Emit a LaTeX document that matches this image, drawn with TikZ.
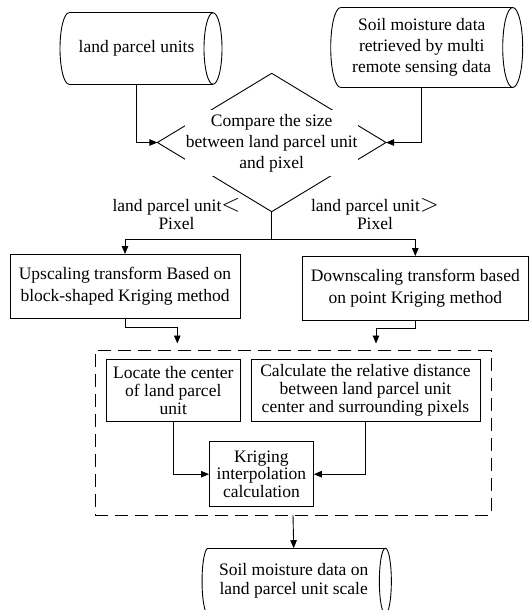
\documentclass[tikz,border=0pt]{standalone}
\usepackage{fontspec}
\setmainfont{Liberation Serif}
\usetikzlibrary{arrows.meta,shapes.geometric}
\newcommand{\bigrel}[1]{{\fontsize{23}{18}\selectfont$#1$}}

\begin{document}
\begin{tikzpicture}[x=1pt,y=-1pt,line width=0.9pt,
        font=\fontsize{17.5}{18}\selectfont,
        body/.style={rectangle,align=center,inner sep=0pt,outer sep=0pt},
        box/.style={body,draw},
        dashframe/.style={draw,dash pattern=on 13pt off 7pt,inner sep=0pt,outer sep=0pt},
        arr/.style={-{Triangle[length=8pt,width=6.5pt]}}]
        \useasboundingbox (0,0) rectangle (529,610);

        % data sources
        \node[body,minimum width=135pt,minimum height=71.5pt] (units) at (136.5,48.5) {land parcel units};
        \node[body,minimum width=162pt,minimum height=80pt,font=\fontsize{17.5}{21}\selectfont] (soil) at (421.7,47.5) {Soil moisture data\\retrieved by multi\\remote sensing data};
        \node[body,minimum width=171.3pt,minimum height=66pt,font=\fontsize{17.5}{19}\selectfont] (result) at (293.7,581.2) {Soil moisture data on\\land parcel unit scale};
        \foreach \c/\r/\h in {units/9/35.75, soil/10/40, result/6/33}
        {
            \draw (\c.north west) -- ([xshift=\r pt]\c.north east);
            \draw (\c.south west) -- ([xshift=\r pt]\c.south east);
            \draw (\c.north west) arc[start angle=90,end angle=270,x radius=\r pt,y radius=\h pt];
            \draw ([xshift=\r pt]\c.east) ellipse [x radius=\r pt,y radius=\h pt];
        }

        % decision
        \node[diamond,draw,minimum width=228.6pt,minimum height=138.4pt,inner sep=0pt,outer sep=0pt] (cmp) at (271.7,142.5) {};
        \node[body,fill=white,minimum width=173.3pt,minimum height=65.7pt,font=\fontsize{17.5}{21}\selectfont] (cmptext) at (271.7,142.8) {Compare the size\\between land parcel unit\\and pixel};
        \draw[arr] (units.south) |- (cmp.west);
        \draw[arr] (soil.south) |- (cmp.east);

        \node[body] (lessLbl) at (176.5,214) {land parcel unit\bigrel{<}\\Pixel};
        \node[body] (moreLbl) at (375,214) {land parcel unit\bigrel{>}\\Pixel};

        \node[box,minimum width=230pt,minimum height=64pt,font=\fontsize{17.5}{22}\selectfont] (up) at (125,286) {Upscaling transform Based on\\block-shaped Kriging method};
        \node[box,minimum width=225.4pt,minimum height=64pt,font=\fontsize{17.5}{22}\selectfont] (down) at (415.3,288) {Downscaling transform based\\on point Kriging method};

        \coordinate (fork) at (271.7,239);
        \draw (cmp.south) -- (fork);
        \draw[arr] (fork) -| (up.north);
        \draw[arr] (fork) -| (down.north);

        % kriging steps
        \node[dashframe,minimum width=396pt,minimum height=164.3pt] (frame) at (293,432.9) {};
        \node[box,minimum width=133.3pt,minimum height=62.4pt] (locate) at (173.3,390.5) {Locate the center\\of land parcel\\unit};
        \node[box,minimum width=229pt,minimum height=62.4pt] (calc) at (365.5,390.5) {Calculate the relative distance\\between land parcel unit\\center and surrounding pixels};
        \node[box,minimum width=104.8pt,minimum height=65pt,font=\fontsize{17.5}{17.5}\selectfont] (krig) at (261.4,474.2) {Kriging\\interpolation\\calculation};

        \coordinate (upIn) at (177.3,343.5);
        \coordinate (downIn) at (376,343.5);
        \draw[arr] (up.south) -- ++(0,9) -| (upIn);
        \draw[arr] (down.south) -- ++(0,8.4) -| (downIn);
        \draw[arr] (locate.south) |- (krig.west);
        \draw[arr] (calc.south) |- (krig.east);
        \draw[arr] (frame.south) -- (result.north);
\end{tikzpicture}
\end{document}
